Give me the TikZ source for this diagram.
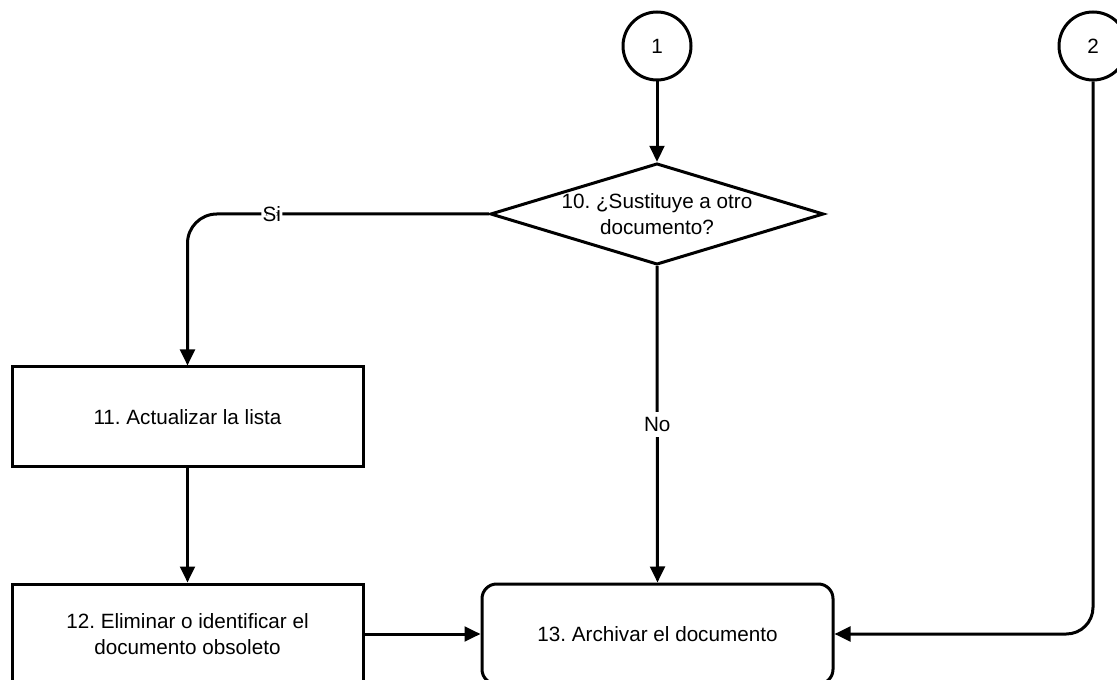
\documentclass[tikz,border=0pt]{standalone}
\usepackage{fontspec}
\setmainfont{Liberation Sans}
\usetikzlibrary{shapes.geometric,arrows.meta}
\frenchspacing
\begin{document}
\begin{tikzpicture}[x=0.75pt,y=-0.75pt,
  every node/.style={font=\fontsize{15.5}{19.5}\selectfont},
  line/.style={line width=2.25pt,-{Triangle[length=12pt,width=11pt]}},
  process/.style={draw,line width=2.25pt,minimum width=263.25pt,minimum height=75pt,align=center,inner sep=0pt},
  terminal/.style={process,rounded corners=11pt},
  decision/.style={draw,diamond,line width=2.25pt,minimum width=250pt,minimum height=76pt,inner sep=0pt},
  connector/.style={draw,circle,line width=2.25pt,minimum size=51pt,inner sep=0pt},
  lbl/.style={fill=white,inner xsep=1pt,inner ysep=4pt}]
\useasboundingbox (0,0) rectangle (1117,680);
\clip (0,0) rectangle (1117,680);

% off-page connectors
\node[connector] (c1) at (657,46) {1};
\node[connector] (c2) at (1093,46) {2};

% decision
\node[decision] (d) at (657,214) {};
\node[align=center] (dt) at (d.center) {10. ¿Sustituye a otro\\documento?};

% process steps
\node[process] (p11) at (187.5,417) {11. Actualizar la lista};
\node[process] (p12) at (187.5,634) {12. Eliminar o identificar el\\documento obsoleto};
\node[terminal] (p13) at (657.5,634) {13. Archivar el documento};

% connectors
\draw[line] (c1) -- (d.north);
\draw[line,rounded corners=22pt] (d.west) -| node[lbl,pos=0.36] (si) {Si} (p11.north);
\draw[line] (p11) -- (p12);
\draw[line] (d.south) -- node[lbl,pos=0.5] (no) {No} (p13.north);
\draw[line] (p12) -- (p13);
\draw[line,rounded corners=20pt] (c2) |- (p13.east);
\end{tikzpicture}
\end{document}
